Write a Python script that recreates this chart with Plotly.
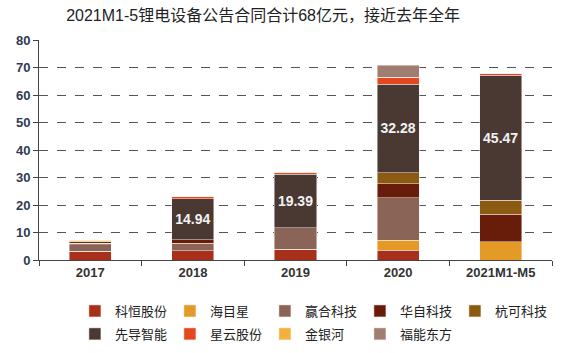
import plotly.graph_objects as go

categories = ["2017", "2018", "2019", "2020", "2021M1-M5"]

kehen = [3.2, 3.4, 4.0, 3.5, 0]
haimuxing = [0, 0, 0, 3.7, 6.7]
yinghe = [2.3, 2.7, 7.8, 15.4, 0]
huazi = [0.6, 1.2, 0, 5.2, 9.9]
hangke = [0, 0, 0, 3.9, 5.1]
xiandao = [0.5, 14.94, 19.39, 32.28, 45.47]
xingyun = [0, 0.8, 0.7, 2.4, 0.6]
jinyinhe = [0.5, 0, 0, 0, 0]
funeng = [0, 0, 0, 4.5, 0]

xiandao_labels = ["", "14.94", "19.39", "32.28", "45.47"]

series = [
    ("科恒股份", kehen, "#A8301A", "legend"),
    ("海目星", haimuxing, "#E39A26", "legend"),
    ("赢合科技", yinghe, "#8A6457", "legend"),
    ("华自科技", huazi, "#681D0B", "legend"),
    ("杭可科技", hangke, "#8B5B14", "legend"),
    ("先导智能", xiandao, "#4A3933", "legend2"),
    ("星云股份", xingyun, "#E5461E", "legend2"),
    ("金银河", jinyinhe, "#F2B13C", "legend2"),
    ("福能东方", funeng, "#A07D72", "legend2"),
]

FONT = "Liberation Sans, Arial, Noto Sans CJK SC"

fig = go.Figure()
for name, vals, color, lg in series:
    kw = {}
    if name == "先导智能":
        kw = dict(text=xiandao_labels, textposition="inside", insidetextanchor="middle",
                  textangle=0, textfont=dict(color="#F2F2F2", size=14, family=FONT, weight="bold"))
    fig.add_trace(go.Bar(
        x=categories, y=vals, name=name, legend=lg,
        marker=dict(color=color, line=dict(color="rgba(255,240,235,0.8)", width=0.6)),
        width=0.41, hoverinfo="skip", **kw))

legend_common = dict(orientation="h", xanchor="left", yanchor="middle", yref="container",
                     entrywidth=50, entrywidthmode="pixels", itemwidth=30, traceorder="normal",
                     font=dict(size=13, color="#222222", family=FONT),
                     itemclick=False, itemdoubleclick=False, tracegroupgap=0,
                     bgcolor="rgba(0,0,0,0)")

fig.update_layout(
    barmode="stack",
    width=586, height=353,
    margin=dict(l=39, r=34, t=40, b=93, autoexpand=False),
    paper_bgcolor="white", plot_bgcolor="white",
    font=dict(family=FONT, color="#222222"),
    title=dict(text="2021M1-5锂电设备公告合同合计68亿元，接近去年全年",
               x=0.449, xanchor="center", xref="container", y=0.955, yanchor="middle",
               font=dict(size=16, color="#222222", family=FONT)),
    legend=dict(x=0.07, y=0.119, **legend_common),
    legend2=dict(x=0.07, y=0.054, **legend_common),
    showlegend=True,
)

fig.update_xaxes(
    type="category", showline=True, linecolor="#444444", linewidth=1,
    ticks="outside", tickson="boundaries", ticklen=5, tickcolor="#444444",
    tickfont=dict(size=13, color="#333333", family=FONT, weight="bold"),
    showgrid=False, mirror=False,
)
fig.update_yaxes(
    range=[0, 80], dtick=10, showline=True, linecolor="#444444", linewidth=1,
    ticks="outside", ticklen=5, tickcolor="#444444",
    tickfont=dict(size=13, color="#2F3B52", family=FONT, weight="bold"),
    showgrid=True, gridcolor="#555555", griddash="dash", gridwidth=1,
    zeroline=False,
)

fig.write_html("out.html")
